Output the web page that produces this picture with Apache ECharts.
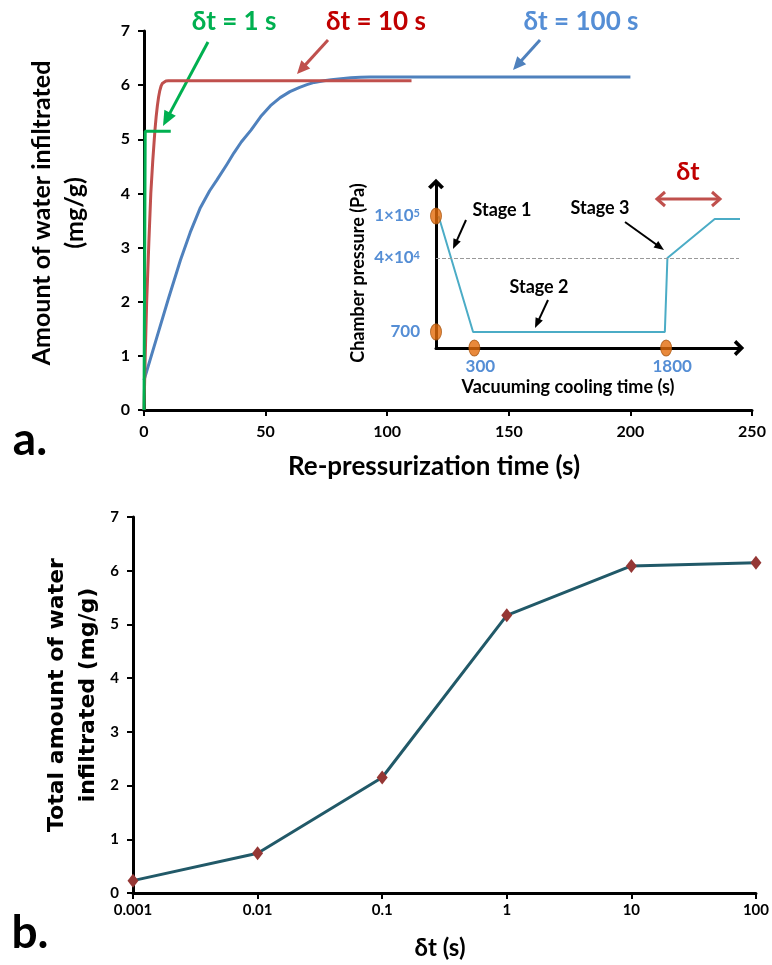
<!DOCTYPE html>
<html><head><meta charset="utf-8">
<script src="https://cdn.jsdelivr.net/npm/echarts@6/dist/echarts.min.js"></script>
<style>html,body{margin:0;padding:0;background:#fff}#c{width:772px;height:965px}</style>
</head><body><div id="c"></div>
<script>
// ---- Panel a: amount of water infiltrated vs re-pressurization time ----
const time1s = [0, 0.5, 11];
const water1s = [0, 5.15, 5.15];
const time10s = [0, 0.5, 1.1, 2.0, 2.8, 3.6, 4.5, 5.0, 5.5, 6.0, 6.5, 7.0, 7.5, 8.2, 9, 10, 110];
const water10s = [0, 1.0, 2.0, 3.1, 4.0, 4.6, 5.17, 5.42, 5.62, 5.78, 5.9, 5.98, 6.03, 6.06, 6.075, 6.08, 6.08];
const time100s = [0, 5, 10, 15, 19, 23, 27, 30, 34, 37, 40, 44, 48, 52, 56, 60, 64, 67, 70, 74, 77, 81, 85, 89, 93, 200];
const water100s = [0.55, 1.3, 2.05, 2.77, 3.28, 3.72, 4.05, 4.25, 4.53, 4.75, 4.95, 5.17, 5.42, 5.62, 5.77, 5.88, 5.96, 6.01, 6.05, 6.08, 6.1, 6.12, 6.135, 6.145, 6.15, 6.15];
const xTicksA = [0, 50, 100, 150, 200, 250];

// ---- Inset: schematic chamber pressure vs vacuuming cooling time ----
const insetTime = [20, 290, 1790, 1810, 2180, 2400];
const insetLevel = [8.05, 0.98, 0.98, 5.49, 7.87, 7.87];
const insetPressureLabels = ['700', '4×10⁴', '1×10⁵'];
const insetPressureLevels = [0.98, 5.49, 8.05];
const insetTimeMarks = [300, 1800];
const insetDashLevel = 5.5;

// ---- Panel b: total amount of water infiltrated vs δt ----
const deltaT = [0.001, 0.01, 0.1, 1, 10, 100];
const totalWater = [0.23, 0.74, 2.15, 5.17, 6.09, 6.15];

const F = 'Lato, "Open Sans", sans-serif';
const zip = (xs, ys) => xs.map((x, i) => [x, ys[i]]);

function arrow(x1, y1, x2, y2, color, w, hl, hw) {
  const a = Math.atan2(y2 - y1, x2 - x1);
  const bx = x2 - hl * Math.cos(a), by = y2 - hl * Math.sin(a);
  const px = -Math.sin(a) * hw / 2, py = Math.cos(a) * hw / 2;
  return [
    {type: 'line', shape: {x1: x1, y1: y1, x2: bx + Math.cos(a), y2: by + Math.sin(a)}, style: {stroke: color, lineWidth: w}},
    {type: 'polygon', shape: {points: [[x2, y2], [bx + px, by + py], [bx - px, by - py]]}, style: {fill: color}}
  ];
}
function chevron(x, y, dir, color, w, hl, hw) {
  return {type: 'polyline', shape: {points: [[x - dir * hl, y - hw / 2], [x, y], [x - dir * hl, y + hw / 2]]},
    style: {stroke: color, lineWidth: w, fill: null}};
}
function txt(text, x, y, size, color, opts) {
  opts = opts || {};
  return {type: 'text', x: x, y: y, rotation: opts.rot || 0, z: 10,
    style: {text: text, fill: color, fontSize: size, fontWeight: 'bold', fontFamily: opts.family || F,
      align: 'center', verticalAlign: 'middle'}};
}

const axisLineBlack = {show: true, onZero: false, lineStyle: {color: '#000', width: 3}};
const tickBlack = {show: true, length: 6, lineStyle: {color: '#000', width: 2}};
const chevPath = 'path://M0,10 L10,0 L20,10 L16.5,13 L10,6.5 L3.5,13 Z';
const VERD = '"DejaVu Sans", Verdana, sans-serif';
const SUP = {'⁰': '0', '¹': '1', '²': '2', '³': '3', '⁴': '4', '⁵': '5', '⁶': '6', '⁷': '7', '⁸': '8', '⁹': '9'};
const toRich = s => s.replace(/([⁰¹²³⁴⁵⁶⁷⁸⁹]+)/g, m => '}{s|' + m.split('').map(c => SUP[c]).join('') + '}{b|');

const graphic = [
  txt('δt = 1 s', 234, 22, 26, '#00B050'),
  txt('δt = 10 s', 376, 22, 26, '#C00000'),
  txt('δt = 100 s', 581, 22, 26, '#558ED5'),
  ...arrow(208, 42, 163, 126, '#00B050', 3, 15, 13),
  ...arrow(328, 40, 297, 74, '#C0504D', 3, 13, 12),
  ...arrow(540, 40, 513, 70, '#4F81BD', 3, 13, 12),
  txt('Amount of water infiltrated', 42, 213, 25, '#000', {rot: Math.PI / 2}),
  txt('(mg/g)', 75, 213, 25, '#000', {rot: Math.PI / 2}),
  txt('Re-pressurization time (s)', 434, 467, 26, '#000'),
  txt('a.', 30, 440, 46, '#000'),
  txt('Chamber pressure (Pa)', 358, 273, 18, '#000', {rot: Math.PI / 2}),
  txt('Vacuuming cooling time (s)', 568, 387, 18, '#000'),
  txt('Stage 1', 502, 210, 18, '#000'),
  txt('Stage 3', 600, 208, 18, '#000'),
  txt('Stage 2', 539, 287, 18, '#000'),
  ...arrow(466, 220, 453, 249, '#000', 2, 10, 8),
  ...arrow(548, 300, 535, 328, '#000', 2, 10, 8),
  ...arrow(625, 222, 664, 250, '#000', 2, 10, 8),
  txt('δt', 688, 172, 25, '#C00000'),
  {type: 'line', shape: {x1: 658, y1: 199, x2: 719, y2: 199}, style: {stroke: '#C0504D', lineWidth: 3}},
  chevron(657, 199, -1, '#C0504D', 3, 8, 14),
  chevron(720, 199, 1, '#C0504D', 3, 8, 14),
  txt('Total amount of water', 57, 695, 22, '#000', {rot: Math.PI / 2, family: VERD}),
  txt('infiltrated (mg/g)', 88, 695, 22, '#000', {rot: Math.PI / 2, family: VERD}),
  txt('δt (s)', 440, 948, 24, '#000'),
  txt('b.', 30, 933, 46, '#000')
];

const fmtLog = v => String(Number(Number(v).toPrecision(3)));

const option = {
  animation: false,
  backgroundColor: '#fff',
  grid: [
    {left: 144, top: 31, width: 608, height: 379},
    {left: 436, top: 184, width: 303, height: 164},
    {left: 133, top: 517, width: 624, height: 376}
  ],
  xAxis: [
    {gridIndex: 0, type: 'value', min: xTicksA[0], max: xTicksA[xTicksA.length - 1], interval: 50,
      axisLine: axisLineBlack, axisTick: tickBlack, splitLine: {show: false},
      axisLabel: {margin: 14, color: '#000', fontFamily: F, fontWeight: 'bold', fontSize: 16}},
    {gridIndex: 1, type: 'value', min: 0, max: 2370,
      axisLine: {show: true, onZero: false, symbol: ['none', chevPath], symbolSize: [16, 11], lineStyle: {color: '#000', width: 3}},
      axisTick: {show: false}, splitLine: {show: false},
      axisLabel: {customValues: insetTimeMarks, margin: 10, padding: [0, 0, 0, 12], color: '#558ED5',
        fontFamily: F, fontWeight: 'bold', fontSize: 17, formatter: v => String(v)}},
    {gridIndex: 2, type: 'log', logBase: 10, min: 0.001, max: 100,
      axisLine: axisLineBlack, axisTick: tickBlack, splitLine: {show: false}, minorTick: {show: false},
      axisLabel: {margin: 10, color: '#000', fontFamily: F, fontWeight: 'bold', fontSize: 15, formatter: fmtLog}}
  ],
  yAxis: [
    {gridIndex: 0, type: 'value', min: 0, max: 7, interval: 1,
      axisLine: axisLineBlack, axisTick: tickBlack, splitLine: {show: false},
      axisLabel: {margin: 14, color: '#000', fontFamily: F, fontWeight: 'bold', fontSize: 16}},
    {gridIndex: 1, type: 'value', min: 0, max: 10,
      axisLine: {show: true, onZero: false, symbol: ['none', chevPath], symbolSize: [16, 11], lineStyle: {color: '#000', width: 3}},
      axisTick: {show: false}, splitLine: {show: false},
      axisLabel: {customValues: insetPressureLevels, margin: 16, color: '#558ED5',
        rich: {
          b: {color: '#558ED5', fontFamily: F, fontWeight: 'bold', fontSize: 17},
          s: {color: '#558ED5', fontFamily: F, fontWeight: 'bold', fontSize: 11, verticalAlign: 'top', padding: [0, 0, 6, 0]}
        },
        formatter: v => {
          let best = 0;
          insetPressureLevels.forEach((l, i) => { if (Math.abs(l - v) < Math.abs(insetPressureLevels[best] - v)) best = i; });
          return ('{b|' + toRich(insetPressureLabels[best]) + '}').replace('{b|}', '');
        }}},
    {gridIndex: 2, type: 'value', min: 0, max: 7, interval: 1,
      axisLine: axisLineBlack, axisTick: tickBlack, splitLine: {show: false},
      axisLabel: {margin: 14, color: '#000', fontFamily: F, fontWeight: 'bold', fontSize: 15}}
  ],
  series: [
    {type: 'line', xAxisIndex: 0, yAxisIndex: 0, data: zip(time100s, water100s), symbol: 'none',
      lineStyle: {color: '#4F81BD', width: 3, join: 'round'}},
    {type: 'line', xAxisIndex: 0, yAxisIndex: 0, data: zip(time10s, water10s), symbol: 'none',
      lineStyle: {color: '#C0504D', width: 3, join: 'round'}},
    {type: 'line', xAxisIndex: 0, yAxisIndex: 0, data: zip(time1s, water1s), symbol: 'none',
      lineStyle: {color: '#00B050', width: 3}},
    {type: 'line', xAxisIndex: 1, yAxisIndex: 1, data: zip(insetTime, insetLevel), symbol: 'none', clip: false,
      lineStyle: {color: '#4BACC6', width: 2},
      markLine: {silent: true, symbol: 'none', label: {show: false},
        lineStyle: {type: 'dashed', color: '#999', width: 1}, data: [{yAxis: insetDashLevel}]}},
    {type: 'scatter', xAxisIndex: 1, yAxisIndex: 1, clip: false, z: 5,
      data: [[0, insetPressureLevels[2]], [0, insetPressureLevels[0]], [insetTimeMarks[0], 0], [insetTimeMarks[1], 0]],
      symbol: 'circle', symbolSize: [11, 16],
      itemStyle: {color: '#E46C0A', borderColor: '#A5520C', borderWidth: 1}},
    {type: 'line', xAxisIndex: 2, yAxisIndex: 2, data: zip(deltaT, totalWater), clip: false,
      symbol: 'diamond', symbolSize: [11, 14], showAllSymbol: true,
      lineStyle: {color: '#215968', width: 3}, itemStyle: {color: '#953735'}}
  ],
  graphic: graphic
};

const chart = echarts.init(document.getElementById('c'), null, {renderer: 'canvas'});
chart.setOption(option);
</script>
</body></html>
